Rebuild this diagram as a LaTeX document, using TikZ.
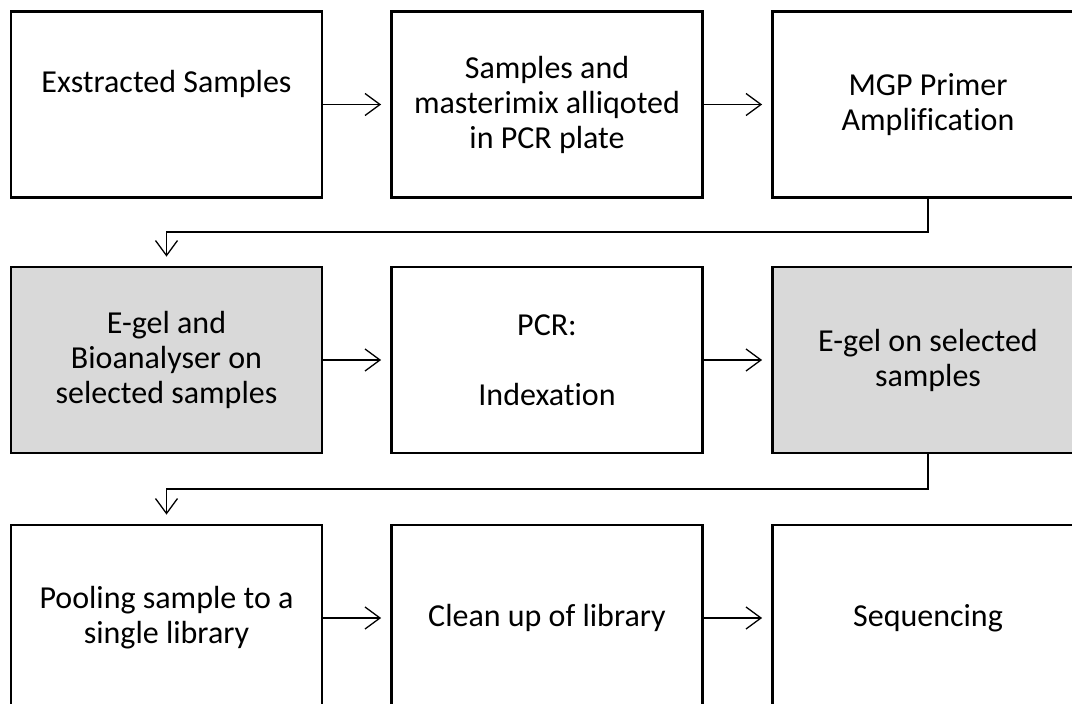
\documentclass[tikz,border=0pt]{standalone}
\usepackage{fontspec}
\setmainfont{Carlito}[Ligatures=NoCommon]
\usetikzlibrary{arrows.meta}
\definecolor{stepgray}{HTML}{D9D9D9}
\tikzset{
  stepbox/.style={draw=black, line width=2.8pt, minimum width=311pt, minimum height=186pt,
    inner sep=0pt, align=center, font=\fontsize{32}{35}\selectfont, text=black},
  shaded/.style={stepbox, fill=stepgray},
  flow/.style={line width=1.3pt, -{Straight Barb[length=15pt,width=22pt,line width=1.3pt]}, shorten >=9pt},
}
\begin{document}
\begin{tikzpicture}[x=1pt,y=-1pt]
  \useasboundingbox (0,0) rectangle (1072,704);
  \clip (0,0) rectangle (1072,704);
  % row 1
  \node[stepbox] (s1) at (166.5,104.5) {Exstracted Samples\\\strut};
  \node[stepbox] (s2) at (547,104.5) {Samples and\\masterimix alliqoted\\in PCR plate};
  \node[stepbox] (s3) at (928,104.5) {MGP Primer\\Amplification};
  % row 2
  \node[shaded] (s4) at (166.5,360) {E-gel and\\Bioanalyser on\\selected samples};
  \node[stepbox] (s5) at (547,360) {PCR:\\\strut\\Indexation};
  \node[shaded] (s6) at (928,360) {E-gel on selected\\samples};
  % row 3
  \node[stepbox] (s7) at (166.5,618) {Pooling sample to a\\single library};
  \node[stepbox] (s8) at (547,618) {Clean up of library};
  \node[stepbox] (s9) at (928,618) {Sequencing};
  % connectors within rows
  \draw[flow] (s1) -- (s2);
  \draw[flow] (s2) -- (s3);
  \draw[flow] (s4) -- (s5);
  \draw[flow] (s5) -- (s6);
  \draw[flow] (s7) -- (s8);
  \draw[flow] (s8) -- (s9);
  % connectors between rows
  \coordinate (b1) at (0,232);
  \coordinate (b2) at (0,489);
  \draw[flow] (s3.south) -- (s3.south |- b1) -- (s4.north |- b1) -- (s4.north);
  \draw[flow] (s6.south) -- (s6.south |- b2) -- (s7.north |- b2) -- (s7.north);
\end{tikzpicture}
\end{document}
